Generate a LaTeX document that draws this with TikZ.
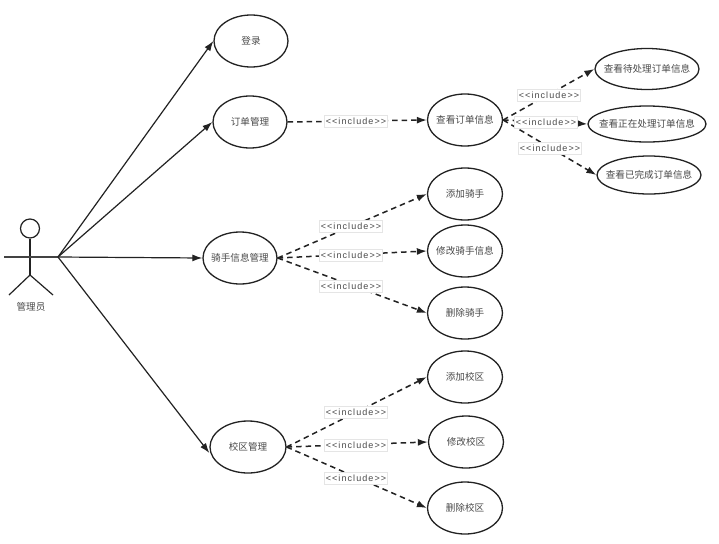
\documentclass[tikz,border=0pt]{standalone}
\usepackage{fontspec}
\setmainfont{Noto Sans CJK SC}
\newfontfamily\latfont[LetterSpace=12]{Liberation Sans}
\usetikzlibrary{shapes.geometric,arrows.meta}
\definecolor{ink}{HTML}{222222}
\definecolor{txt}{HTML}{4A4A4A}
\newcommand{\uctext}[1]{\makebox[0pt][c]{#1}}
\tikzset{
  usecase/.style={draw=ink,line width=1.3pt,ellipse,inner sep=0pt,minimum width=74pt,minimum height=52pt,text=txt,font=\fontsize{9.6}{11}\selectfont},
  assoc/.style={draw=ink,line width=1.2pt,-{Latex[length=10pt,width=7pt]}},
  incl/.style={draw=ink,line width=1.5pt,dash pattern=on 5.5pt off 4pt,-{Latex[length=10pt,width=7pt]}},
  incllabel/.style={draw=black!10,line width=0.5pt,fill=white,inner sep=0pt,minimum width=63pt,minimum height=12pt,text=txt,font=\fontsize{9}{10}\latfont},
  limb/.style={draw=ink,line width=1.2pt},
}
\begin{document}
\begin{tikzpicture}[x=1pt,y=-1pt]
\useasboundingbox[fill=white] (0,0) rectangle (719,543);
% actor
\node[draw=ink,line width=1.2pt,circle,minimum size=19pt,inner sep=0pt] (head) at (30,228.5) {};
\coordinate (hip) at (30,275);
\coordinate (armL) at (4,257);
\coordinate (actor) at (58,257);
\coordinate (legL) at (9,295);
\coordinate (legR) at (53,295);
\draw[limb] (head.south) -- (hip);
\draw[limb] (hip) -- (legL);
\draw[limb] (hip) -- (legR);
\draw[draw=ink!85,line width=1.6pt] (armL) -- (actor);
\node[text=txt,font=\fontsize{9.6}{11}\selectfont,inner sep=0pt] (actorlabel) at (31,307) {管理员};
% use cases
\node[usecase] (login) at (251,41) {\uctext{登录}};
\node[usecase] (order) at (250,122) {\uctext{订单管理}};
\node[usecase] (rider) at (240,258) {\uctext{骑手信息管理}};
\node[usecase,minimum width=76pt] (campus) at (248,447) {\uctext{校区管理}};
\node[usecase,minimum width=75pt] (view) at (465,120) {\uctext{查看订单信息}};
\node[usecase,minimum width=104pt,minimum height=41pt] (pending) at (647,69) {\uctext{查看待处理订单信息}};
\node[usecase,minimum width=118pt,minimum height=36pt] (doing) at (647,124) {\uctext{查看正在处理订单信息}};
\node[usecase,minimum width=104pt,minimum height=38pt] (done) at (649,175) {\uctext{查看已完成订单信息}};
\node[usecase,minimum width=75pt] (addr) at (465,194) {\uctext{添加骑手}};
\node[usecase,minimum width=75pt] (modr) at (465,251) {\uctext{修改骑手信息}};
\node[usecase,minimum width=75pt] (delr) at (465,313) {\uctext{删除骑手}};
\node[usecase,minimum width=75pt] (addc) at (465,377) {\uctext{添加校区}};
\node[usecase,minimum width=75pt] (modc) at (466,442) {\uctext{修改校区}};
\node[usecase,minimum width=75pt] (delc) at (465,508) {\uctext{删除校区}};
% associations
\draw[assoc] (actor) -- (login.west);
\draw[assoc] (actor) -- (order.west);
\draw[assoc] (actor) -- (rider.west);
\draw[assoc] (actor) -- ([yshift=-6pt]campus.west);
% includes
\draw[incl] (order.east) -- (view.west);
\draw[incl] (view.east) -- (pending.west);
\draw[incl] (view.east) -- (doing.west);
\draw[incl] (view.east) -- (done.west);
\draw[incl] (rider.east) -- (addr.west);
\draw[incl] (rider.east) -- (modr.west);
\draw[incl] (rider.east) -- (delr.west);
\draw[incl] (campus.east) -- (addc.west);
\draw[incl] (campus.east) -- (modc.west);
\draw[incl] (campus.east) -- (delc.west);
% labels
\node[incllabel] (l1) at (356,121) {<{}<include>{}>};
\node[incllabel] (l2) at (549,95) {<{}<include>{}>};
\node[incllabel] (l3) at (546,122) {<{}<include>{}>};
\node[incllabel] (l4) at (550,148) {<{}<include>{}>};
\node[incllabel] (l5) at (351,226) {<{}<include>{}>};
\node[incllabel] (l6) at (351,255) {<{}<include>{}>};
\node[incllabel] (l7) at (351,286) {<{}<include>{}>};
\node[incllabel] (l8) at (356,412) {<{}<include>{}>};
\node[incllabel] (l9) at (356,445) {<{}<include>{}>};
\node[incllabel] (l10) at (356,478) {<{}<include>{}>};
\end{tikzpicture}
\end{document}
